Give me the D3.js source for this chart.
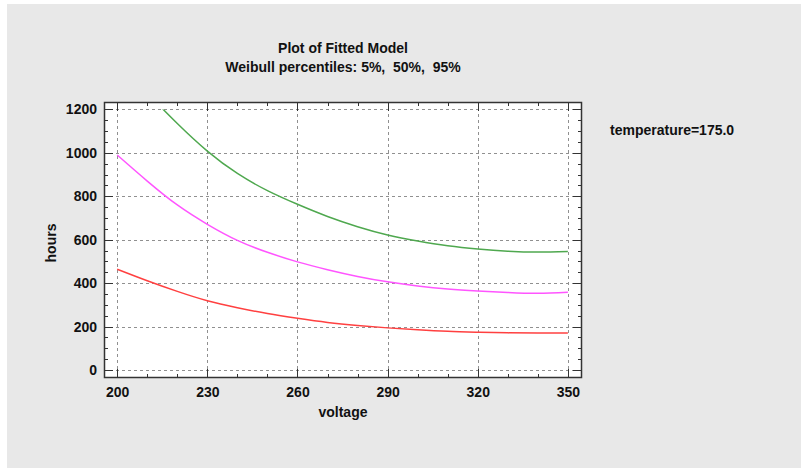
<!DOCTYPE html>
<html>
<head>
<meta charset="utf-8">
<script src="https://cdn.jsdelivr.net/npm/d3@7"></script>
<style>
  body { margin: 0; background: #fff; }
  text { font-family: "Liberation Sans", Arial, sans-serif; font-weight: bold; fill: #111; white-space: pre; }
</style>
</head>
<body>
<div id="chart"></div>
<script>
// data
let voltage = [200, 210, 220, 230, 240, 250, 260, 270, 280, 290, 300, 310, 320, 330, 340, 350];
let p95 = [1420, 1275, 1135, 1008, 905, 826, 763, 707, 660, 622, 594, 572, 557, 547, 543, 546];
let p50 = [990, 870, 760, 671, 597, 542, 498, 462, 431, 406, 387, 373, 364, 357, 353, 358];
let p5 = [464, 411, 362, 319, 287, 260, 238, 219, 205, 194, 185, 178, 174, 171, 170, 170];
let xTicks = [200, 230, 260, 290, 320, 350];
let yTicks = [0, 200, 400, 600, 800, 1000, 1200];

let width = 808, height = 471;
let plot = {left: 104, right: 582, top: 102, bottom: 378};
let fontSize = 14;

let svg = d3.select("#chart").append("svg")
  .attr("width", width)
  .attr("height", height);

svg.append("rect")
  .attr("x", 7).attr("y", 4)
  .attr("width", 794).attr("height", 464)
  .attr("fill", "#e8e8e8");

let x = d3.scaleLinear().domain([195.6, 354.7]).range([plot.left, plot.right]);
let y = d3.scaleLinear().domain([-36.8, 1234]).range([plot.bottom, plot.top]);

svg.append("rect")
  .attr("x", plot.left).attr("y", plot.top)
  .attr("width", plot.right - plot.left).attr("height", plot.bottom - plot.top)
  .attr("fill", "#fff");

//Grid
svg.append("g").selectAll("line").data(xTicks).enter().append("line")
  .attr("x1", d => Math.round(x(d)) + 0.5).attr("x2", d => Math.round(x(d)) + 0.5)
  .attr("y1", plot.top).attr("y2", plot.bottom)
  .attr("stroke", "#909090").attr("stroke-dasharray", "3,3");
svg.append("g").selectAll("line").data(yTicks).enter().append("line")
  .attr("y1", d => Math.round(y(d)) + 0.5).attr("y2", d => Math.round(y(d)) + 0.5)
  .attr("x1", plot.left).attr("x2", plot.right)
  .attr("stroke", "#909090").attr("stroke-dasharray", "3,3");

//Curves (clipped at the top of the 1200 line)
svg.append("clipPath").attr("id", "clip").append("rect")
  .attr("x", plot.left).attr("y", y(1200))
  .attr("width", plot.right - plot.left).attr("height", plot.bottom - y(1200));

let series = [
  {vals: p95, color: "#4fa84f"},
  {vals: p50, color: "#ff55ff"},
  {vals: p5, color: "#ff4040"}
];
let line = d3.line().curve(d3.curveNatural);
svg.append("g").attr("clip-path", "url(#clip)")
  .selectAll("path").data(series).enter().append("path")
    .attr("d", s => line(voltage.map((v, i) => [x(v), y(s.vals[i])])))
    .attr("fill", "none")
    .attr("stroke", s => s.color)
    .attr("stroke-width", 1.5);

//Frame with inward ticks on all four sides
let xMinor = d3.range(200, 351, 10);
let yMinor = d3.range(0, 1201, 50);
let frame = svg.append("g").attr("stroke", "#333").attr("stroke-width", 1);
frame.append("rect")
  .attr("x", plot.left + 0.5).attr("y", plot.top + 0.5)
  .attr("width", plot.right - plot.left - 1).attr("height", plot.bottom - plot.top - 1)
  .attr("fill", "none").attr("stroke-width", 1.5);

xMinor.forEach(v => {
  let len = xTicks.includes(v) ? 9 : 4;
  let px = Math.round(x(v)) + 0.5;
  frame.append("line").attr("x1", px).attr("x2", px).attr("y1", plot.bottom).attr("y2", plot.bottom - len);
  frame.append("line").attr("x1", px).attr("x2", px).attr("y1", plot.top).attr("y2", plot.top + len);
});
yMinor.forEach(v => {
  let len = yTicks.includes(v) ? 9 : 4;
  let py = Math.round(y(v)) + 0.5;
  frame.append("line").attr("y1", py).attr("y2", py).attr("x1", plot.left).attr("x2", plot.left + len);
  frame.append("line").attr("y1", py).attr("y2", py).attr("x1", plot.right).attr("x2", plot.right - len);
});

//Tick labels via d3 axes (lines hidden)
let xAxis = svg.append("g")
  .attr("transform", "translate(0," + plot.bottom + ")")
  .call(d3.axisBottom(x).tickValues(xTicks).tickFormat(d3.format("d")).tickSize(0).tickPadding(9));
let yAxis = svg.append("g")
  .attr("transform", "translate(" + plot.left + ",0)")
  .call(d3.axisLeft(y).tickValues(yTicks).tickFormat(d3.format("d")).tickSize(0).tickPadding(7));
[xAxis, yAxis].forEach(a => {
  a.select(".domain").remove();
  a.selectAll("text").attr("font-size", fontSize).attr("font-family", "Liberation Sans, Arial, sans-serif").attr("fill", "#111");
});

//Titles
svg.append("text").attr("x", 343).attr("y", 53).attr("text-anchor", "middle").attr("font-size", fontSize)
  .text("Plot of Fitted Model");
svg.append("text").attr("x", 343).attr("y", 72).attr("text-anchor", "middle").attr("font-size", fontSize)
  .text("Weibull percentiles: 5%,  50%,  95%");
svg.append("text").attr("x", 343).attr("y", 417).attr("text-anchor", "middle").attr("font-size", fontSize)
  .text("voltage");
svg.append("text").attr("transform", "translate(56,243) rotate(-90)").attr("text-anchor", "middle").attr("font-size", fontSize)
  .text("hours");
svg.append("text").attr("x", 610).attr("y", 135).attr("font-size", fontSize)
  .text("temperature=175.0");
</script>
</body>
</html>
